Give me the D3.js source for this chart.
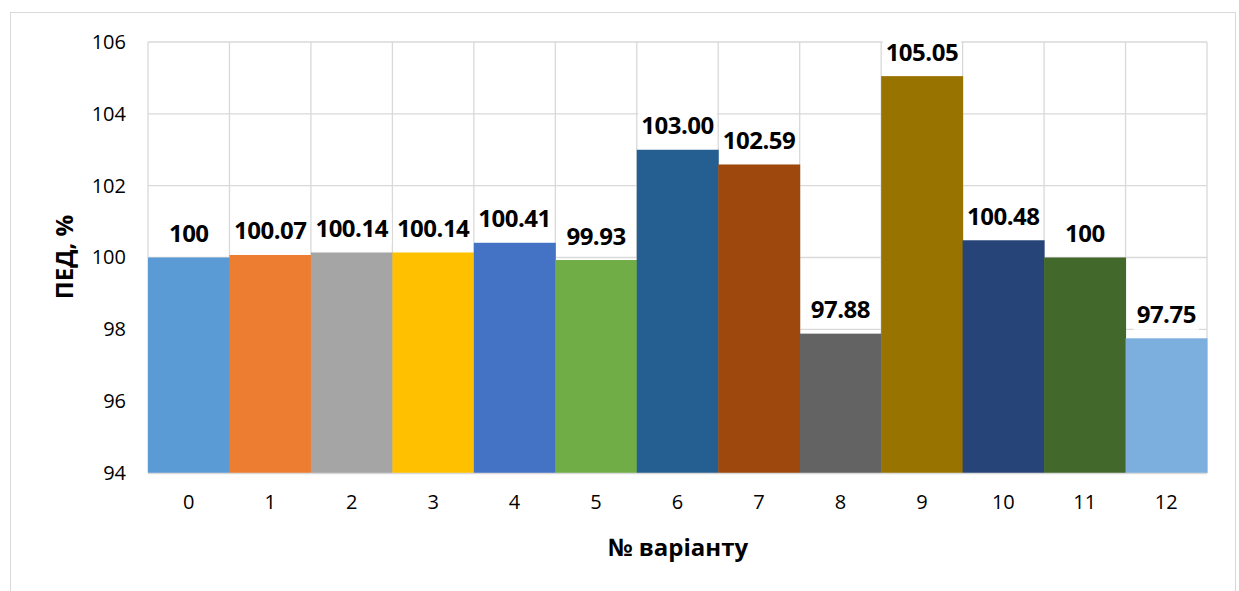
<!DOCTYPE html>
<html><head><meta charset="utf-8">
<script src="https://cdn.jsdelivr.net/npm/d3@7/dist/d3.min.js"></script>
<style>
html,body{margin:0;padding:0;background:#fff;}
svg{display:block;font-family:"Open Sans",sans-serif;}
</style></head>
<body>
<svg id="chart" width="1239" height="591"></svg>
<script>
const categories = ["0","1","2","3","4","5","6","7","8","9","10","11","12"];
const values = [100, 100.07, 100.14, 100.14, 100.41, 99.93, 103.00, 102.59, 97.88, 105.05, 100.48, 100, 97.75];
const valueLabels = ["100","100.07","100.14","100.14","100.41","99.93","103.00","102.59","97.88","105.05","100.48","100","97.75"];
const yTicks = [94, 96, 98, 100, 102, 104, 106];
const colors = ["#5B9BD5","#ED7D31","#A5A5A5","#FFC000","#4472C4","#70AD47","#255E91","#9E480E","#636363","#997300","#264478","#43682B","#7CAFDD"];
const yTitle = "ПЕД, %";
const xTitle = "№ варіанту";

const svg = d3.select("#chart");
const m = {left:148, top:42, right:1207, bottom:473};

// outer border
svg.append("rect").attr("x",10.5).attr("y",12.5).attr("width",1225).attr("height",600)
  .attr("fill","none").attr("stroke","#d9d9d9").attr("stroke-width",1);

const x = d3.scaleBand().domain(categories).range([m.left, m.right]).padding(0);
const y = d3.scaleLinear().domain([94,106]).range([m.bottom, m.top]);

// horizontal gridlines
svg.append("g").selectAll("line").data(yTicks).join("line")
  .attr("x1",m.left).attr("x2",m.right)
  .attr("y1",d=>y(d)).attr("y2",d=>y(d))
  .attr("stroke","#d9d9d9").attr("stroke-width",1.3);
// vertical gridlines
const vx = categories.map(c=>x(c)).concat([m.right]);
svg.append("g").selectAll("line").data(vx).join("line")
  .attr("x1",d=>d).attr("x2",d=>d)
  .attr("y1",m.top).attr("y2",m.bottom)
  .attr("stroke","#d9d9d9").attr("stroke-width",1.3);

// bars
svg.append("g").selectAll("rect").data(values).join("rect")
  .attr("x",(d,i)=>x(categories[i]))
  .attr("width",x.bandwidth()+0.5)
  .attr("y",d=>y(d))
  .attr("height",d=>y(94)-y(d))
  .attr("fill",(d,i)=>colors[i]);

// x axis line
svg.append("line").attr("x1",m.left).attr("x2",m.right).attr("y1",m.bottom+0.5).attr("y2",m.bottom+0.5)
  .attr("stroke","#d9d9d9").attr("stroke-width",1.5);

// y axis
const yAxis = d3.axisLeft(y).tickValues(yTicks).tickSize(0).tickPadding(22).tickFormat(d3.format("d"));
const yg = svg.append("g").attr("transform",`translate(${m.left},0)`).call(yAxis);
yg.select(".domain").remove();
yg.selectAll("text").attr("font-size",20).attr("fill","#000").attr("font-family","Open Sans");

// x axis
const xAxis = d3.axisBottom(x).tickSize(0).tickPadding(22);
const xg = svg.append("g").attr("transform",`translate(0,${m.bottom})`).call(xAxis);
xg.select(".domain").remove();
xg.selectAll("text").attr("font-size",20).attr("fill","#000").attr("font-family","Open Sans");

// data labels
const lg = svg.append("g").selectAll("g").data(values).join("g")
  .attr("transform",(d,i)=>`translate(${x(categories[i])+x.bandwidth()/2},${y(d)-25})`);
lg.each(function(d,i){
  const g = d3.select(this);
  const t = g.append("text").text(valueLabels[i])
    .attr("text-anchor","middle").attr("dominant-baseline","central")
    .attr("font-size",24).attr("font-weight",700).attr("fill","#000")
    .attr("letter-spacing",-0.5);
  const bb = t.node().getBBox();
  g.insert("rect","text").attr("x",bb.x-3).attr("y",bb.y+2).attr("width",bb.width+6).attr("height",bb.height-2).attr("fill","#fff");
});

// axis titles
svg.append("text").text(yTitle)
  .attr("transform","translate(63,257) rotate(-90)")
  .attr("text-anchor","middle").attr("dominant-baseline","central")
  .attr("font-size",24).attr("font-weight",700).attr("fill","#000");
svg.append("text").text(xTitle)
  .attr("x",678).attr("y",546)
  .attr("text-anchor","middle").attr("dominant-baseline","central")
  .attr("font-size",24).attr("font-weight",700).attr("fill","#000");
</script>
</body></html>
